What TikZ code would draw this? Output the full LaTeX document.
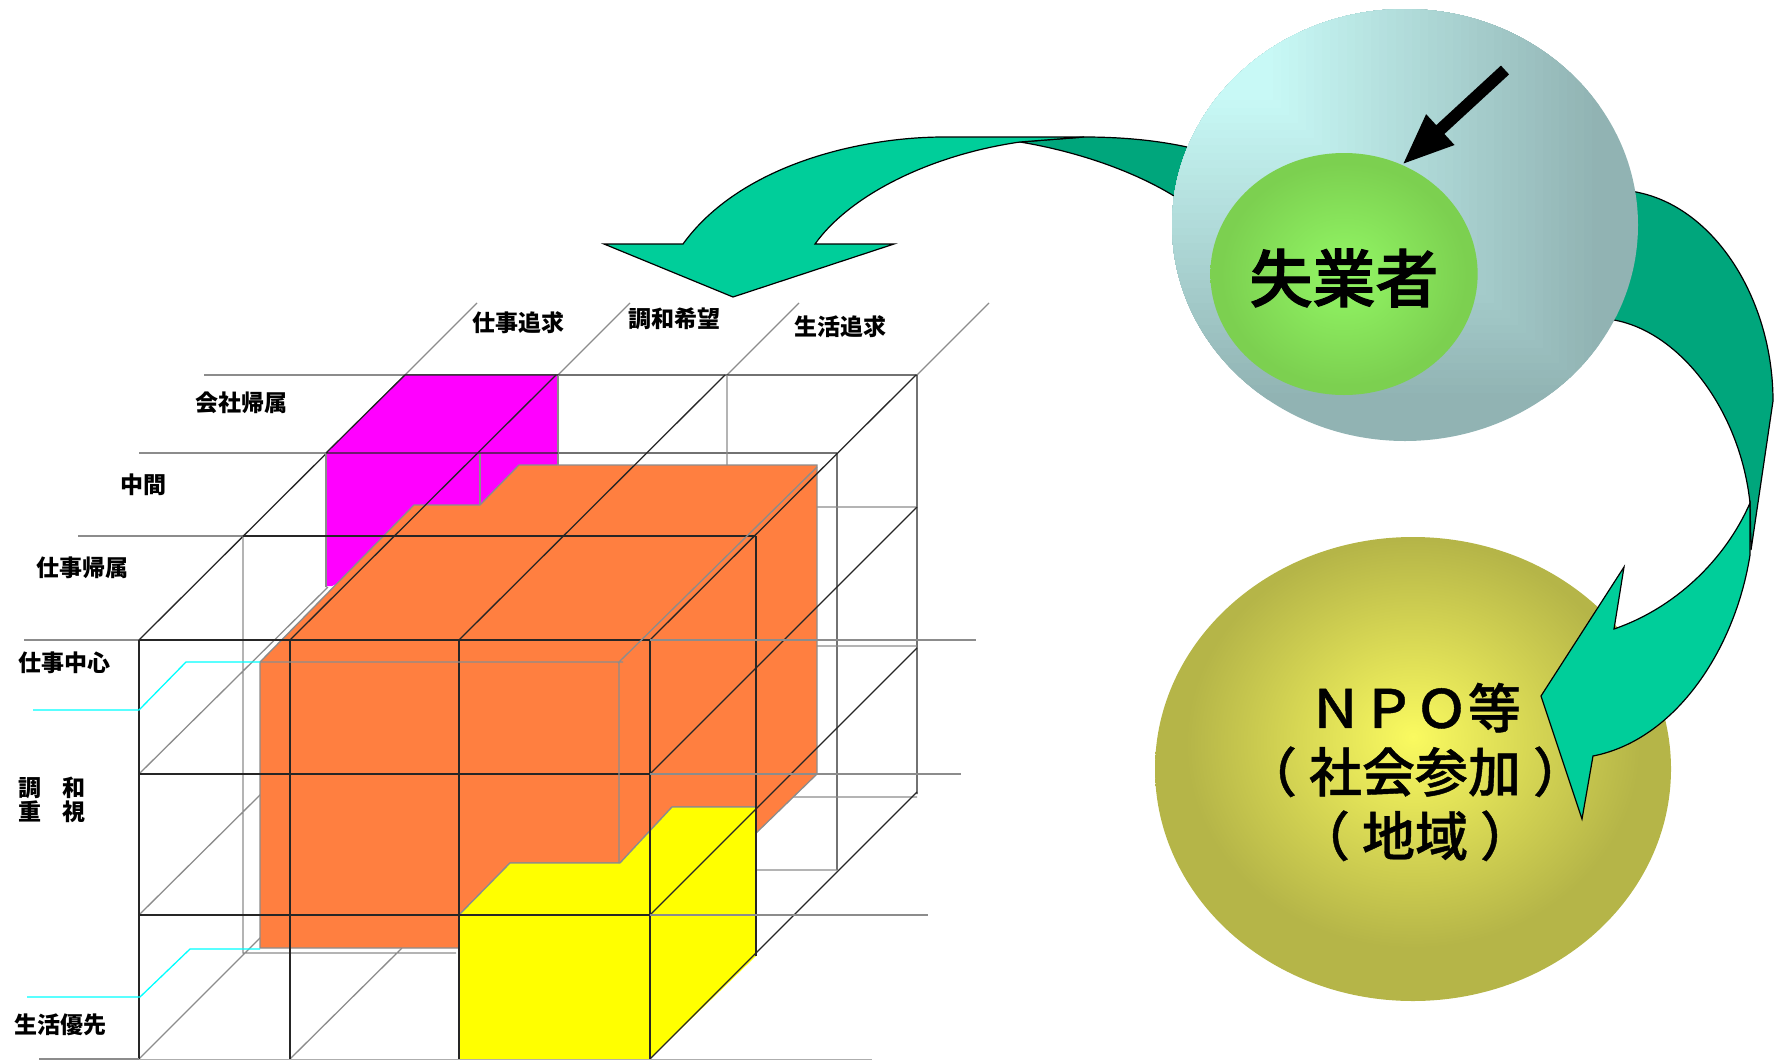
\documentclass[tikz,border=0pt]{standalone}
\usepackage{fontspec}
\setmainfont{Noto Sans CJK JP}
\newfontfamily\npofont[FakeBold=0.8]{Noto Sans CJK JP Medium}
\newfontfamily\joblessfont[FakeBold=1.6]{Noto Sans CJK JP Medium}
\usetikzlibrary{positioning, shapes.geometric, arrows.meta}
\definecolor{arrowlight}{HTML}{00CE9A}
\definecolor{arrowdark}{HTML}{00A67C}
\definecolor{boxorange}{HTML}{FF7F40}
\definecolor{boxmagenta}{HTML}{FF00FF}
\definecolor{boxyellow}{HTML}{FFFF00}
\definecolor{leadcyan}{HTML}{00FFFF}
\definecolor{linegray}{HTML}{8C8C8C}
\definecolor{ballcyan}{HTML}{C8F9F6}
\definecolor{ballgray}{HTML}{91B3B3}
\definecolor{greenin}{HTML}{93F765}
\definecolor{greenout}{HTML}{7CD050}
\definecolor{oliveout}{HTML}{B5B548}
\definecolor{olivein}{HTML}{FAFA60}
\pgfdeclareradialshading{greenglow}{\pgfpointorigin}{color(0bp)=(greenin); color(23bp)=(greenout); color(100bp)=(greenout)}
\pgfdeclareradialshading{oliveglow}{\pgfpoint{0bp}{3.5bp}}{color(0bp)=(olivein); color(22bp)=(oliveout); color(100bp)=(oliveout)}
\begin{document}
\begin{tikzpicture} [x=1pt, y=-1pt,
  ball/.style={ellipse, inner sep=0},
  axis/.style={font=\bfseries\fontsize{23}{25}\selectfont, inner sep=0},
  grid/.style={black!85, line width=1.3},
  back/.style={linegray, line width=1.3},
  lead/.style={leadcyan, line width=1.3},
  swoosh/.style={draw=black, line width=1.2, line join=miter}]
  \useasboundingbox (0,0) rectangle (1775,1060);

  % back of the cube
  \foreach \y/\xa/\xb in {375/204/405, 453/139/326, 536/78/243, 640/24/139}
    \draw[back] (\xa,\y) -- (\xb,\y);
  \foreach \x in {405,558,727,917}
    \draw[back] (\x,375) -- ++(72,-72);
  \draw[grid] (405,375) -- (917,375) (326,453) -- (837,453)
              (917,375) -- (917,794) (837,453) -- (837,870) (139,640) -- (405,375);
  \draw[back] (558,375) -- (558,470) (727,375) -- (727,470) (326,453) -- (326,587) (480,453) -- (480,505)
              (243,536) -- (243,953) -- (456,953) (756,870) -- (837,870) (788,797) -- (917,797)
              (817,507) -- (917,507) (817,646) -- (917,646)
              (139,774) -- (328,587) (139,915) -- (262,793) (139,1059) -- (262,936) (290,1059) -- (402,948);
  \fill[boxmagenta] (405,375) -- (558,375) -- (558,480) -- (332,586) -- (326,586) -- (326,453) -- cycle;
  \draw[back] (558,375) -- (558,470) (326,453) -- (326,587) (480,453) -- (480,505);
  \draw[grid] (405,375) -- (558,375) (326,453) -- (558,453) (405,375) -- (326,453);

  % boxes
  \draw[fill=boxorange, draw=linegray, line width=1.3] (519,465) -- (817,465) -- (817,774) -- (752,837)
    -- (756,807) -- (672,807) -- (620,863) -- (510,863) -- (459,915) -- (459,948) -- (260,948) -- (260,662)
    -- (414,505) -- (480,505) -- cycle;
  \fill[boxyellow] (459,915) -- (510,863) -- (620,863) -- (672,807) -- (756,807) -- (756,956) -- (650,1059) -- (459,1059) -- cycle;
  \draw[back] (459,915) -- (510,863) -- (620,863) (672,807) -- (756,807) (620,863) -- (672,807);

  % front of the cube
  \foreach \x in {139,290,459,650}
    \draw[grid] (\x,640) -- (\x,1059);
  \foreach \y in {640,774,915}
    \draw[grid] (139,\y) -- (650,\y);
  \draw[grid] (243,536) -- (756,536) (756,536) -- (756,956);
  \foreach \x in {290,459,650}
    \draw[grid] (\x,640) -- ++(266,-265);
  \foreach \y in {774,915,1059}
    \draw[grid] (650,\y) -- ++(267,-267);
  \draw[back] (650,640) -- (976,640) (650,774) -- (961,774) (650,915) -- (928,915)
              (39,1059) -- (139,1059);
  \draw[linegray!70, line width=1] (139,1059) -- (872,1059);
  \draw[back] (260,662) -- (623,662) (619,662) -- (619,863) (618,663) -- (817,467);
  \draw[lead] (33,710) -- (139,710) -- (186,662) -- (260,662);
  \draw[lead] (27,997) -- (140,997) -- (190,949) -- (260,949);

  % axis labels
  \draw (241,403) node[axis](kaisha) {会社帰属};
  \draw (143,485) node[axis](chukan) {中間};
  \draw (82,568) node[axis](shigoto) {仕事帰属};
  \draw (65,663) node[axis](chushin) {仕事中心};
  \draw (52,788) node[axis](chowa) {調\hspace{21pt}和};
  \draw (52,812) node[axis](juushi) {重\hspace{21pt}視};
  \draw (60,1025) node[axis](yusen) {生活優先};
  \draw (518,323) node[axis](tsuikyu) {仕事追求};
  \draw (674,319) node[axis](kibou) {調和希望};
  \draw (840,327) node[axis](seikatsu) {生活追求};

  % flows, tail first so that the balls cover it
  \draw[swoosh, fill=arrowdark] (1020,142) .. controls (1080,152) and (1135,172) .. (1174,196)
    -- (1195,200) -- (1200,150) -- (1187,147) .. controls (1155,140) and (1120,137) .. (1084,137) -- cycle;
  \draw[swoosh, fill=arrowlight] (1084,137) -- (944,137) .. controls (860,137) and (740,165) .. (683,244)
    -- (604,244) -- (733,297) -- (894,244) -- (815,244) .. controls (850,195) and (930,155) .. (1020,142) -- cycle;
  \draw[swoosh, fill=arrowdark] (1600,185) -- (1636,192) .. controls (1715,207) and (1773,300) .. (1773,401)
    -- (1751,550) -- (1750,503) .. controls (1740,410) and (1680,332) .. (1614,320) -- (1590,315) -- cycle;

  \begin{scope}
    \clip (1405,225) ellipse [x radius=233, y radius=216];
    \fill[ballgray] (1170,5) rectangle (1640,445);
    \foreach \i [evaluate=\i as \mx using 100-2.5*\i, evaluate=\i as \rx using 1273+8.175*\i,
                 evaluate=\i as \ry using 100+7.5*\i] in {40,39,...,0}
      \fill[ballcyan!\mx!ballgray] (1170,5) rectangle (\rx,\ry);
  \end{scope}
  \draw (1405,225) node[ball, minimum width=466, minimum height=432](topball) {};
  \draw (1344,274) node[ball, minimum width=266, minimum height=242, shading=greenglow,
    font=\joblessfont\fontsize{63}{65}\selectfont](jobless) {\raisebox{-4pt}[\height][\depth]{失業者}};
  \coordinate (push) at (1505,70);
  \draw[-{Triangle[length=52pt, width=38pt]}, line width=12] (push) -- (jobless.62);

  \draw (1413,769) node[ball, minimum width=516, minimum height=464, shading=oliveglow](npoball) {};
  \draw (1415,772) node[align=center, inner sep=0, font=\npofont\fontsize{53}{64}\selectfont](npo) {ＮＰＯ等\\（\hspace{12pt}社会参加\hspace{12pt}）\\（\hspace{12pt}地域\hspace{12pt}）};

  \draw[swoosh, fill=arrowlight] (1750,503) .. controls (1725,560) and (1675,608) .. (1614,629) -- (1624,567) -- (1541,696)
    -- (1582,819) -- (1593,756) .. controls (1675,740) and (1735,650) .. (1750,555) -- cycle;
\end{tikzpicture}
\end{document}
